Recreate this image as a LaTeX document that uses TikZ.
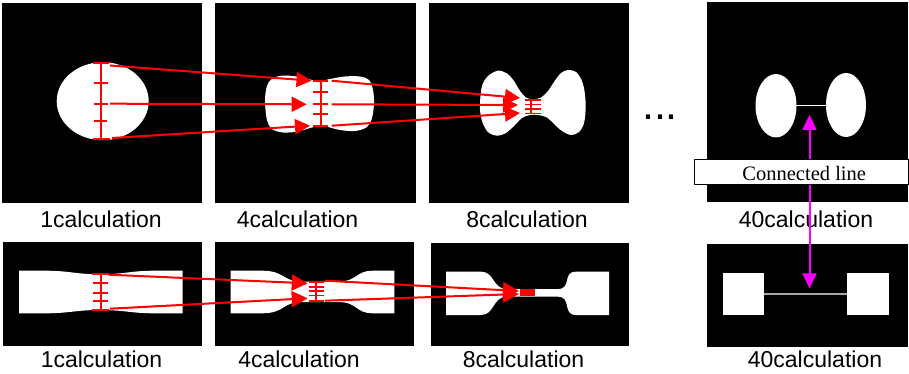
\documentclass[tikz,border=0pt]{standalone}
\usepackage{fontspec}
\setmainfont{Liberation Serif}
\newfontfamily\labfont{Liberation Sans}
\usetikzlibrary{arrows.meta}
\definecolor{mag}{RGB}{255,0,255}
\begin{document}
\begin{tikzpicture}[x=1pt,y=-1pt,
  panel/.style={fill=black,draw=none},
  specimen/.style={fill=white,draw=none},
  redtick/.style={draw=red,line width=2pt},
  redthin/.style={draw=red,line width=1.6pt},
  redarr/.style={draw=red,line width=2pt,-{Triangle[length=15pt,width=15pt]}},
  redarrb/.style={draw=red,line width=2pt,-{Triangle[length=16pt,width=16pt]}},
  magarr/.style={draw=mag,line width=2pt,{Triangle[length=15pt,width=14pt]}-{Triangle[length=15pt,width=14pt]}},
  lab/.style={font=\labfont\fontsize{23}{23}\selectfont,anchor=base,inner sep=0pt},
  boxst/.style={draw=black,fill=white,line width=1pt,minimum width=214pt,minimum height=25pt,inner sep=0pt},
  boxtxt/.style={font=\fontsize{20.5}{20.5}\selectfont,anchor=base,inner sep=0pt}
]
\useasboundingbox (0,0) rectangle (909,374);
\fill[white] (0,0) rectangle (909,374);

% ---------- panels ----------
\fill[panel] (2,3) rectangle (202,203);
\fill[panel] (215,3) rectangle (416,203);
\fill[panel] (429,3) rectangle (629,203);
\fill[panel] (707,2) rectangle (908,202);
\fill[panel] (3,242) rectangle (202,346);
\fill[panel] (215,242) rectangle (414,346);
\fill[panel] (431,243) rectangle (629,346);
\fill[panel] (707,244) rectangle (908,347);

% ---------- top specimens ----------
\fill[specimen] (102.7,101.2) ellipse [x radius=46, y radius=39];
\fill[specimen] plot[smooth cycle,tension=0.55] coordinates {
 (265,101) (267,86) (273,78) (285,75.5) (300,77) (312,80) (320,81.5) (330,79)
 (345,76.5) (360,76.5) (369,80) (373,90) (374,103) (372,118) (367,127) (355,131)
 (340,130) (328,127) (320,126) (310,128) (298,131.5) (283,132.5) (272,129) (267,120)};
\fill[specimen] plot[smooth cycle,tension=0.55] coordinates {
 (480,103) (482,86) (488,76) (498,70.7) (507,73.5) (514,81) (519,89.5) (526,97.5)
 (533.3,99.3) (541,97.5) (548,91) (554,82) (561,73) (568.3,70) (576,72) (581.5,80)
 (584.5,91) (585.7,106.7) (584,123) (579,132) (571,135) (562,131) (554,124)
 (546.7,117.3) (538,115) (530,115) (522,118) (513.3,126.7) (505,133.5) (497,135.7)
 (489,133) (483.5,125) (480.5,114)};
\fill[specimen] (776,105.7) ellipse [x radius=20.5, y radius=31.7];
\fill[specimen] (846,105) ellipse [x radius=20, y radius=32];
\draw[white,line width=1pt] (796,106) -- (826,106);

% ---------- bottom specimens ----------
\fill[specimen] (19,270.7) -- (45,270.7) .. controls (70,270.7) and (75,274.3) .. (100,274.3)
 .. controls (125,274.3) and (130,270.7) .. (155,270.7) -- (182.7,270.7) -- (182.7,313.3)
 -- (155,313.3) .. controls (130,313.3) and (125,310) .. (100,310)
 .. controls (75,310) and (70,313.3) .. (45,313.3) -- (19,313.3) -- cycle;
\fill[specimen] (230.7,270.7) -- (262,270.7) .. controls (285,270.7) and (282,281.5) .. (302,281.5)
 -- (338,281.5) .. controls (358,281.5) and (355,270.7) .. (373,270.7) -- (394.3,270.7)
 -- (394.3,313.3) -- (373,313.3) .. controls (355,313.3) and (358,302) .. (338,302)
 -- (302,302) .. controls (282,302) and (285,313.3) .. (262,313.3) -- (230.7,313.3) -- cycle;
\fill[specimen] (446,271.7) -- (481,271.7) .. controls (495,271.7) and (492,289) .. (507,289)
 -- (558,289) .. controls (572,289) and (562,271.7) .. (576,271.7) -- (609,271.7)
 -- (609,315) -- (576,315) .. controls (562,315) and (572,296.7) .. (558,296.7)
 -- (507,296.7) .. controls (492,296.7) and (495,315) .. (481,315) -- (446,315) -- cycle;
\fill[specimen] (723,273) rectangle (764,315);
\fill[specimen] (847,273) rectangle (889,315);
\draw[gray!70,line width=1.2pt] (764,294) -- (847,294);

% ---------- labels ----------
\node[lab] (t1) at (101,227) {1calculation};
\node[lab] (t4) at (297.5,227) {4calculation};
\node[lab] (t8) at (527,227) {8calculation};
\node[lab] (t40) at (806,227) {40calculation};
\node[lab] (b1) at (101.5,367) {1calculation};
\node[lab] (b4) at (299,367) {4calculation};
\node[lab] (b8) at (523.5,367) {8calculation};
\node[lab] (b40) at (815,367) {40calculation};
\node[font=\labfont\fontsize{43}{43}\selectfont,anchor=base,inner sep=0pt] (dots) at (660,119.5) {...};

% ---------- red measurement marks ----------
\draw[redtick] (100.7,63.3) -- (100.7,138.7);
\foreach \y/\a/\b in {63.3/93/109,83.3/94/108,103.7/94/108,120.7/94/107,138.7/93/110}
  \draw[redtick] (\a,\y) -- (\b,\y);
\draw[redtick] (321,80.7) -- (321,125.7);
\foreach \y in {80.7,92.3,104.3,114.3,125.7}
  \draw[redtick] (313,\y) -- (328,\y);
\draw[redthin] (531,100) -- (531,113.5);
\foreach \y in {100,104.5,109,113.5}
  \draw[redthin] (525,\y) -- (541,\y);
\draw[redtick] (100.7,274.3) -- (100.7,310);
\foreach \y/\a/\b in {274.3/92/108.5,283.3/93.3/108,292.7/93.3/108,301/93.3/108,310/92/108.5}
  \draw[redtick] (\a,\y) -- (\b,\y);
\draw[redthin] (316,281.7) -- (316,300.7);
\foreach \y in {281.7,286.7,291,295.3,300.7}
  \draw[redthin] (309,\y) -- (324,\y);
\fill[red] (520,289.3) rectangle (535,296);

% ---------- red connectors ----------
\coordinate (a1s) at (110,65.5);   \coordinate (a1e) at (311.5,80.7);
\coordinate (a2s) at (110,103.7);  \coordinate (a2e) at (306.7,104.3);
\coordinate (a3s) at (112,138);    \coordinate (a3e) at (310,125.7);
\coordinate (b1s) at (331.7,80.7); \coordinate (b1e) at (520,98);
\coordinate (b2s) at (331.7,104.3);\coordinate (b2e) at (518,105);
\coordinate (b3s) at (331.7,125.7);\coordinate (b3e) at (520,113);
\coordinate (c1s) at (108.3,274.7);\coordinate (c1e) at (307.7,283.3);
\coordinate (c2s) at (110,308.7);  \coordinate (c2e) at (307.7,298.3);
\coordinate (d1s) at (325,280.7);  \coordinate (d1e) at (519,291);
\coordinate (d2s) at (325,300.7);  \coordinate (d2e) at (519,294);
\foreach \p in {a1,a2,a3,b1,b2,b3}
  \draw[redarr] (\p s) -- (\p e);
\foreach \p in {c1,c2,d1,d2}
  \draw[redarrb] (\p s) -- (\p e);

% ---------- magenta connector and label box ----------
\coordinate (mt) at (809.5,115);
\coordinate (mb) at (809.5,288.3);
\draw[magarr] (mt) -- (mb);
\node[boxst] (box) at (801,171.6) {};
\node[boxtxt] (boxtext) at (804.2,180) {Connected line};
\end{tikzpicture}
\end{document}
